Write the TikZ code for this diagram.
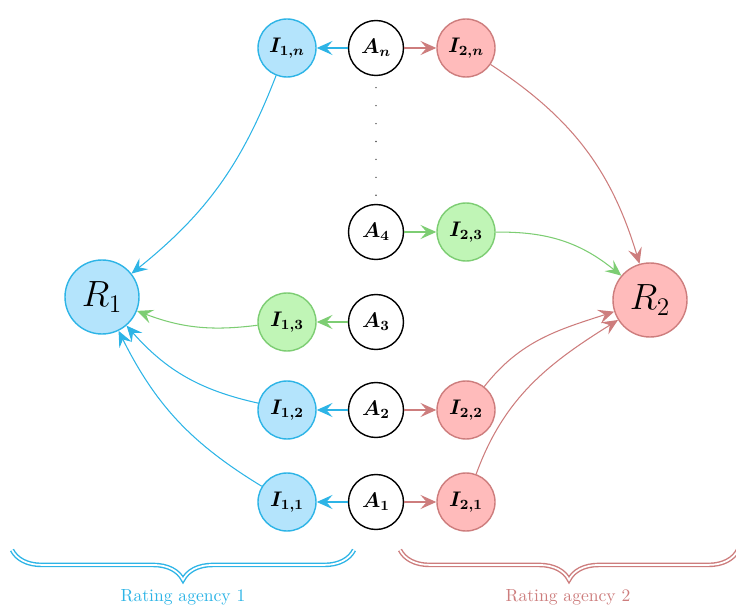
\documentclass[tikz,border=0pt]{standalone}
\usepackage{amsmath,amssymb}
\usepackage{bm}
\usepackage{tikz}
\usetikzlibrary{arrows.meta,decorations.pathreplacing,positioning,calc}
\usepackage{xcolor}
\definecolor{agonecol}{RGB}{45,180,230}
\definecolor{agonefill}{RGB}{180,228,252}
\definecolor{agtwocol}{RGB}{205,125,125}
\definecolor{agtwofill}{RGB}{255,187,187}
\definecolor{sharecol}{RGB}{125,205,115}
\definecolor{sharefill}{RGB}{192,245,182}
\tikzset{
  % asset node
  anode/.style={circle, draw=black, thick, fill=white, minimum size=11mm, inner sep=0pt, font=\large},
  % intermediate rating node
  inode/.style={circle, draw=#1col, thick, fill=#1fill, minimum size=11.6mm, inner sep=0pt, font=\large},
  inode/.default={agone},
  % agency rating node
  rnode/.style={circle, draw=#1col, thick, fill=#1fill, minimum size=14.8mm, inner sep=0pt, font=\huge},
  rnode/.default={agone},
  % connector
  flow/.style={-{Stealth[length=9pt,width=8pt,inset=3.5pt]}, semithick, #1},
  flow/.default={agonecol},
  % agency brace
  agbrace/.style={decorate, decoration={brace, amplitude=17pt, mirror}, double=white, double distance=1pt, thick, draw=#1},
}

\begin{document}
\begin{tikzpicture}
  \useasboundingbox (0,0) rectangle (14.72,12.12);

  % assets
  \node[anode] (An) at (7.52,11.16) {$\bm{A_n}$};
  \node[anode] (A4) at (7.52,7.48) {$\bm{A_4}$};
  \node[anode] (A3) at (7.52,5.68) {$\bm{A_3}$};
  \node[anode] (A2) at (7.52,3.92) {$\bm{A_2}$};
  \node[anode] (A1) at (7.52,2.08) {$\bm{A_1}$};

  % agency 1 side
  \node[inode] (I1n) at (5.74,11.16) {$\bm{I_{1,n}}$};
  \node[inode=share] (I13) at (5.74,5.68) {$\bm{I_{1,3}}$};
  \node[inode] (I12) at (5.74,3.92) {$\bm{I_{1,2}}$};
  \node[inode] (I11) at (5.74,2.08) {$\bm{I_{1,1}}$};
  \node[rnode] (R1) at (2.04,6.18) {$R_1$};

  % agency 2 side
  \node[inode=agtwo] (I2n) at (9.32,11.16) {$\bm{I_{2,n}}$};
  \node[inode=share] (I23) at (9.32,7.48) {$\bm{I_{2,3}}$};
  \node[inode=agtwo] (I22) at (9.32,3.92) {$\bm{I_{2,2}}$};
  \node[inode=agtwo] (I21) at (9.32,2.08) {$\bm{I_{2,1}}$};
  \node[rnode=agtwo] (R2) at (13.0,6.12) {$R_2$};

  % dots between A_n and A_4
  \draw[line width=0.9pt, line cap=round, dash pattern=on 0pt off 10.2pt, black!70] ($(An.south)+(0,-0.23)$) -- ($(A4.north)+(0,0.1)$);

  % assets to intermediate ratings
  \draw[flow] (An) -- (I1n);
  \draw[flow=agtwocol] (An) -- (I2n);
  \draw[flow=sharecol] (A4) -- (I23);
  \draw[flow=sharecol] (A3) -- (I13);
  \draw[flow] (A2) -- (I12);
  \draw[flow=agtwocol] (A2) -- (I22);
  \draw[flow] (A1) -- (I11);
  \draw[flow=agtwocol] (A1) -- (I21);

  % intermediate ratings to agency ratings
  \draw[flow] (I1n) to[bend left=15] (R1);
  \draw[flow=sharecol] (I13) to[bend left=14] (R1);
  \draw[flow] (I12) to[bend left=18] (R1);
  \draw[flow] (I11) to[bend left=16] (R1);
  \draw[flow=agtwocol] (I2n) to[bend left=20] (R2);
  \draw[flow=sharecol] (I23) to[bend left=20] (R2);
  \draw[flow=agtwocol] (I22) to[out=52, in=198] (R2);
  \draw[flow=agtwocol] (I21) to[out=70, in=212] (R2);

  % agencies
  \coordinate (b1l) at (0.24,1.12);
  \coordinate (b1r) at (7.08,1.12);
  \coordinate (b2l) at (8.0,1.12);
  \coordinate (b2r) at (14.76,1.12);
  \draw[agbrace=agonecol] (b1l) -- (b1r);
  \draw[agbrace=agtwocol] (b2l) -- (b2r);
  \node[text=agonecol] (ag1) at (3.66,0.18) {Rating agency 1};
  \node[text=agtwocol] (ag2) at (11.36,0.18) {Rating agency 2};
\end{tikzpicture}
\end{document}
